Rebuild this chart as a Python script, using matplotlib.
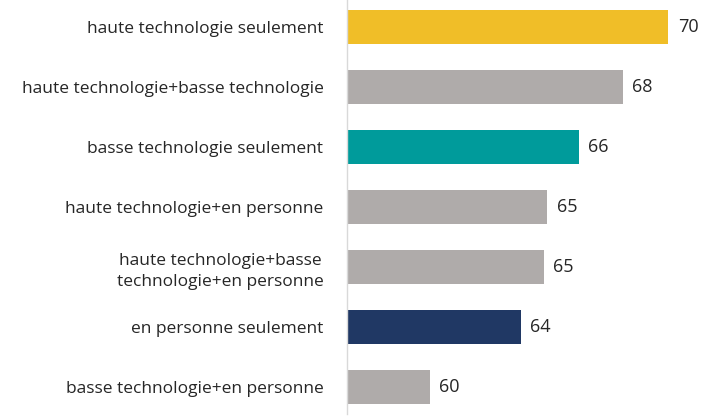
import matplotlib
matplotlib.use("Agg")
import matplotlib.pyplot as plt

categories = [
    "haute technologie seulement",
    "haute technologie+basse technologie",
    "basse technologie seulement",
    "haute technologie+en personne",
    "haute technologie+basse\ntechnologie+en personne",
    "en personne seulement",
    "basse technologie+en personne",
]
values = [69.97, 68.05, 66.22, 64.89, 64.74, 63.78, 59.97]
value_labels = ["70", "68", "66", "65", "65", "64", "60"]
colors = ["#F0BE28", "#AFABAA", "#009B9B", "#AFABAA", "#AFABAA", "#203864", "#AFABAA"]

plt.rcParams['font.family'] = ['Open Sans', 'DejaVu Sans']

W, H = 708, 420
fig = plt.figure(figsize=(W / 100, H / 100), dpi=100)
ax = fig.add_axes([347 / W, 6 / H, 1 - 347 / W, 414 / H])

xmin = 56.5
y = list(range(len(categories)))
ax.barh(y, [v - xmin for v in values], left=xmin, height=0.57, color=colors)
ax.set_xlim(xmin, xmin + 361 / 23.86)
ax.set_ylim(len(categories) - 0.55, -0.45)

for yi, v, lab in zip(y, values, value_labels):
    ax.text(v + 0.4, yi, lab, va="center", ha="left", fontsize=13, color="#262626")

ax.set_yticks(y)
ax.set_yticklabels(categories, fontsize=12.5, color="#262626", linespacing=1.45)
ax.tick_params(axis="y", length=0, pad=17)
for lbl in ax.get_yticklabels():
    lbl.set_multialignment("center")
ax.set_xticks([])
for s in ["top", "right", "bottom"]:
    ax.spines[s].set_visible(False)
ax.spines["left"].set_color("#D9D9D9")
ax.spines["left"].set_linewidth(1)

fig.savefig("out.png", dpi=100)
